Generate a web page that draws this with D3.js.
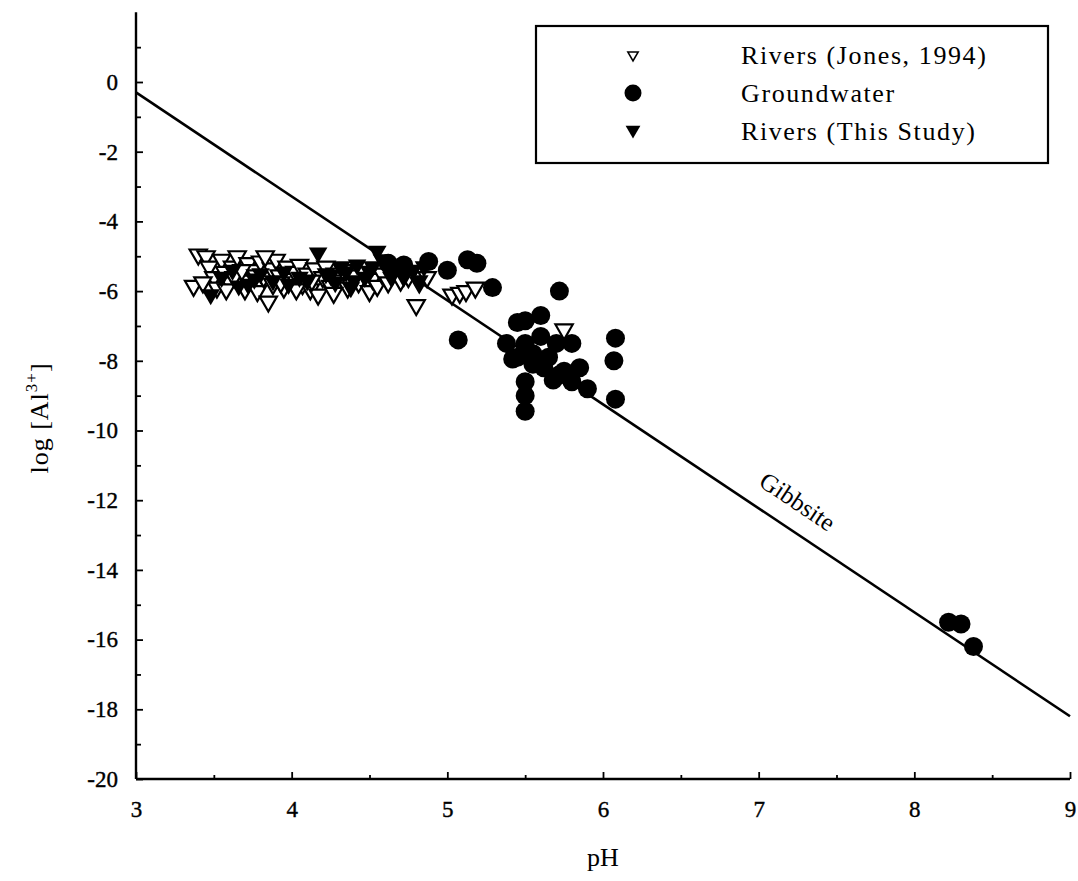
<!DOCTYPE html>
<html><head><meta charset="utf-8">
<script src="https://cdn.jsdelivr.net/npm/d3@7"></script>
<style>body{margin:0;background:#fff}svg{display:block}</style>
</head><body>
<script>
// ---- data ----
const jonesPH = [3.37,3.40,3.45,3.47,3.50,3.52,3.55,3.57,3.60,3.62,3.65,3.67,3.70,3.72,3.73,3.75,3.78,3.80,3.82,3.85,3.87,3.88,3.90,3.92,3.95,3.97,4.00,4.02,4.05,4.07,4.10,4.12,4.15,4.17,4.20,4.22,4.25,4.28,4.30,4.33,4.36,4.40,4.43,4.46,4.50,4.52,4.55,4.58,4.62,4.65,4.70,4.75,4.80,4.82,4.87,5.03,5.08,5.12,5.18,5.75,3.43,3.58,3.63,3.68,3.77,3.83,3.93,4.03,4.13,4.27];
const jonesAl = [-5.85,-4.95,-5.0,-5.3,-5.6,-5.9,-5.1,-5.45,-5.75,-5.3,-5.0,-5.55,-5.95,-5.2,-5.7,-5.4,-6.0,-5.15,-5.6,-6.3,-5.35,-5.8,-5.1,-5.55,-5.9,-5.3,-5.65,-5.45,-5.25,-5.8,-5.5,-5.95,-5.35,-6.1,-5.6,-5.3,-5.85,-5.5,-5.7,-5.4,-5.9,-5.55,-5.75,-5.45,-6.0,-5.65,-5.85,-5.5,-5.75,-5.5,-5.7,-5.6,-6.4,-5.75,-5.6,-6.1,-6.05,-6.0,-5.9,-7.1,-5.75,-5.95,-5.6,-5.4,-5.55,-5.0,-5.75,-5.95,-5.7,-6.05];
const studyPH = [3.48,3.55,3.62,3.72,3.80,3.88,3.95,4.05,4.17,4.22,4.28,4.32,4.35,4.38,4.42,4.47,4.52,4.55,4.58,4.62,4.67,4.72,4.78,4.82,4.85,3.66,3.76,3.98,4.10,4.25,4.40,4.50,4.64];
const studyAl = [-6.1,-5.6,-5.4,-5.8,-5.5,-5.7,-5.45,-5.6,-4.9,-5.5,-5.75,-5.3,-5.45,-5.9,-5.25,-5.6,-5.3,-4.85,-5.1,-5.4,-5.3,-5.6,-5.4,-5.7,-5.3,-5.85,-5.65,-5.8,-5.7,-5.55,-5.7,-5.45,-5.6];
const gwPH = [4.62,4.72,4.88,5.0,5.13,5.19,5.29,5.07,5.72,5.45,5.5,5.6,5.38,5.45,5.5,5.55,5.6,5.65,5.7,5.75,5.8,5.85,5.9,6.08,6.07,6.08,5.5,5.5,5.5,5.55,5.62,5.68,5.72,5.8,5.42,8.22,8.30,8.38];
const gwAl = [-5.2,-5.25,-5.15,-5.4,-5.1,-5.2,-5.9,-7.4,-6.0,-6.9,-6.85,-6.7,-7.5,-7.9,-7.5,-7.8,-7.3,-7.9,-7.5,-8.3,-7.5,-8.2,-8.8,-7.35,-8.0,-9.1,-8.6,-9.0,-9.45,-8.1,-8.2,-8.55,-8.4,-8.6,-7.95,-15.5,-15.55,-16.2];
const gibbsitePH = [3, 9];
const gibbsiteAl = [-0.3, -18.2];
const xTicks = [3,4,5,6,7,8,9];
const yTicks = [0,-2,-4,-6,-8,-10,-12,-14,-16,-18,-20];
const legendLabels = ["Rivers (Jones, 1994)", "Groundwater", "Rivers (This Study)"];

// ---- chart ----
const W = 1078, H = 881;
const svg = d3.select("body").append("svg").attr("width", W).attr("height", H);
const font = "'Liberation Serif','Times New Roman',serif";
const x = d3.scaleLinear().domain([3, 9]).range([136, 1070]);
const y = d3.scaleLinear().domain([-20, 2]).range([779, 779 - 22 * 34.85]);

// axes
const xAxis = d3.axisBottom(x).tickValues(xTicks).tickSize(-7).tickPadding(22).tickFormat(d3.format("d"));
const gx = svg.append("g").attr("transform", "translate(0,779)").call(xAxis);
svg.append("g").attr("transform", "translate(0,779)")
  .call(d3.axisBottom(x).tickValues(d3.range(3.5, 9, 1)).tickSize(-4).tickFormat(""))
  .call(g => g.select(".domain").remove());
const fmtY = d => d === 0 ? "0" : "-" + Math.abs(d);
const yAxis = d3.axisLeft(y).tickValues(yTicks).tickSize(-7).tickPadding(18).tickFormat(fmtY);
const gy = svg.append("g").attr("transform", "translate(136,0)").call(yAxis);
svg.append("g").attr("transform", "translate(136,0)")
  .call(d3.axisLeft(y).tickValues(d3.range(-19, 2, 2)).tickSize(-5).tickFormat(""))
  .call(g => g.select(".domain").remove());
svg.selectAll(".domain").attr("stroke", "#000").attr("stroke-width", 2.4);
svg.selectAll(".tick line").attr("stroke", "#000").attr("stroke-width", 1.8);
svg.selectAll(".tick text").attr("font-family", font).attr("font-size", 23).attr("fill", "#000")
  .attr("stroke", "#000").attr("stroke-width", 0.4);
gy.select(".domain").attr("d", `M0,${y(2)}V${y(-20)}`);
gx.select(".domain").attr("d", `M${x(3)},0H${x(9)}`);

// axis titles
svg.append("text").attr("x", 603).attr("y", 866).attr("text-anchor", "middle")
  .attr("font-family", font).attr("font-size", 26).text("pH");
const yl = svg.append("text").attr("transform", "translate(48,418) rotate(-90)").attr("text-anchor", "middle")
  .attr("font-family", font).attr("font-size", 26).attr("letter-spacing", 1);
yl.append("tspan").text("log [Al");
yl.append("tspan").attr("dy", -11).attr("font-size", 17).text("3+");
yl.append("tspan").attr("dy", 11).text("]");

// gibbsite line
const line = d3.line().x(d => x(d[0])).y(d => y(d[1]));
svg.append("path").datum(gibbsitePH.map((p,i)=>[p, gibbsiteAl[i]]))
  .attr("d", line).attr("fill", "none").attr("stroke", "#000").attr("stroke-width", 2.6);
const ang = Math.atan2(y(gibbsiteAl[1]) - y(gibbsiteAl[0]), x(9) - x(3)) * 180 / Math.PI;
svg.append("text").attr("transform", `translate(${x(7.24)},${y(8.7 - 3*7.24) - 32}) rotate(${ang})`)
  .attr("text-anchor", "middle").attr("dominant-baseline", "middle").attr("font-family", font).attr("font-size", 25).text("Gibbsite");

// markers
const tri = d3.symbol().type(d3.symbolTriangle).size(130);
const triFilled = d3.symbol().type(d3.symbolTriangle).size(150);
svg.append("g").selectAll("path").data(jonesPH.map((p,i)=>[p, jonesAl[i]])).join("path")
  .attr("d", tri).attr("transform", d => `translate(${x(d[0])},${y(d[1])}) rotate(180)`)
  .attr("fill", "#fff").attr("stroke", "#000").attr("stroke-width", 2.2);
svg.append("g").selectAll("path").data(studyPH.map((p,i)=>[p, studyAl[i]])).join("path")
  .attr("d", triFilled).attr("transform", d => `translate(${x(d[0])},${y(d[1])}) rotate(180)`)
  .attr("fill", "#000");
svg.append("g").selectAll("circle").data(gwPH.map((p,i)=>[p, gwAl[i]])).join("circle")
  .attr("cx", d => x(d[0])).attr("cy", d => y(d[1])).attr("r", 9.5).attr("fill", "#000");

// legend
const lg = svg.append("g");
lg.append("rect").attr("x", 536).attr("y", 26).attr("width", 512).attr("height", 137)
  .attr("fill", "#fff").attr("stroke", "#000").attr("stroke-width", 2.2);
const rows = [60, 98, 136];
lg.append("path").attr("d", d3.symbol().type(d3.symbolTriangle).size(45))
  .attr("transform", `translate(633,${rows[0]-5}) rotate(180)`).attr("fill", "#fff").attr("stroke", "#000").attr("stroke-width", 1.6);
lg.append("circle").attr("cx", 633).attr("cy", rows[1]-5).attr("r", 8.5).attr("fill", "#000");
lg.append("path").attr("d", d3.symbol().type(d3.symbolTriangle).size(95))
  .attr("transform", `translate(633,${rows[2]-6}) rotate(180)`).attr("fill", "#000");
lg.selectAll("text.l").data(legendLabels).join("text").attr("class", "l")
  .attr("x", 741).attr("y", (d,i) => rows[i] + 4).attr("font-family", font).attr("font-size", 26)
  .attr("letter-spacing", 1.6).text(d => d);
</script>
</body></html>
